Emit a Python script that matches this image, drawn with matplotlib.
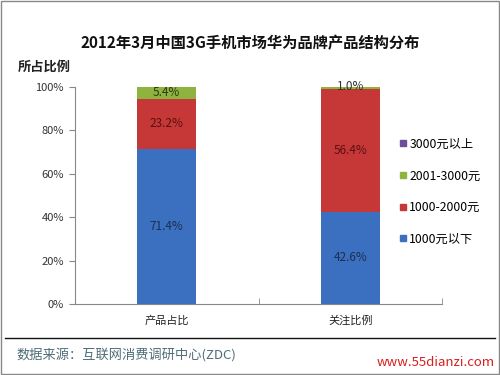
import matplotlib
matplotlib.use("Agg")
import matplotlib.pyplot as plt
from matplotlib.patches import Rectangle
from matplotlib.lines import Line2D
import numpy as np

plt.rcParams['font.family'] = ['Noto Sans CJK SC', 'DejaVu Sans']

categories = ["产品占比", "关注比例"]
series_names = ["1000元以下", "1000-2000元", "2001-3000元", "3000元以上"]
low = [71.4, 42.6]
mid = [23.2, 56.4]
high = [5.4, 1.0]
top = [0.0, 0.0]
series = [low, mid, high, top]
colors = ["#3b6fbf", "#c63838", "#8fb33f", "#6b4f9a"]
label_colors = ["#1c2f4f", "#5a1010", "#2a3a10", "#2a1a40"]

fig = plt.figure(figsize=(5, 3.75), dpi=100)
ax = fig.add_axes([0.15, 0.189, 0.734, 0.579])

x = np.arange(len(categories))
bottom = np.zeros(len(categories))
for vals, c, lc in zip(series, colors, label_colors):
    ax.bar(x, vals, width=0.32, bottom=bottom, color=c, edgecolor="none")
    for xi, b, v in zip(x, bottom, vals):
        if v <= 0:
            continue
        if v < 3:
            ax.text(xi, b + v + 0.3, f"{v:.1f}%", ha="center", va="center", fontsize=8.5, color="#333333")
        else:
            ax.text(xi, b + v / 2, f"{v:.1f}%", ha="center", va="center", fontsize=8.5, color=lc)
    bottom += np.array(vals)

ax.set_xlim(-0.5, 1.5)
ax.set_ylim(0, 100)
ax.set_yticks(range(0, 101, 20))
ax.set_yticklabels([f"{v}%" for v in range(0, 101, 20)], fontsize=8, color="#333333")
ax.set_xticks(x)
ax.set_xticklabels(categories, fontsize=8, color="#222222")
ax.set_xticks([0.5, 1.5], minor=True)
ax.tick_params(axis="x", which="major", length=0, pad=8)
ax.tick_params(axis="x", which="minor", length=4, color="#888888", direction="in")
ax.tick_params(axis="y", length=4, color="#888888", direction="out", pad=4)
for s in ["top", "right"]:
    ax.spines[s].set_visible(False)
for s in ["left", "bottom"]:
    ax.spines[s].set_color("#888888")
    ax.spines[s].set_linewidth(0.8)

# legend
handles = [Line2D([0], [0], marker="s", linestyle="none", markersize=4,
                  markerfacecolor=c, markeredgecolor=c) for c in colors]
leg = fig.legend(handles[::-1], series_names[::-1], loc="upper left",
                 bbox_to_anchor=(0.772, 0.662), frameon=False, fontsize=8.8,
                 handletextpad=0.0, labelspacing=1.52, handlelength=1.0)

# title and y label
fig.text(0.5, 0.885, "2012年3月中国3G手机市场华为品牌产品结构分布", ha="center", va="center",
         fontsize=11, fontweight="bold", color="#111111")
fig.text(0.035, 0.822, "所占比例", ha="left", va="center", fontsize=9.5,
         fontweight="bold", color="#222222")

# footer
fig.add_artist(Line2D([0.01, 0.99], [1 - 338 / 375] * 2, color="#111111", linewidth=1.0))
fig.text(0.032, 1 - 355 / 375, "数据来源：互联网消费调研中心(ZDC)", ha="left", va="center",
         fontsize=9.5, color="#4d6d78")
fig.text(0.99, 1 - 362 / 375, "www.55dianzi.com", ha="right", va="center",
         fontsize=9.5, color="#d81e1e")

# outer border
fig.add_artist(Rectangle((0.002, 0.003), 0.996, 0.994, transform=fig.transFigure,
                         fill=False, edgecolor="#888888", linewidth=1.0))

fig.savefig("out.png", dpi=100)
